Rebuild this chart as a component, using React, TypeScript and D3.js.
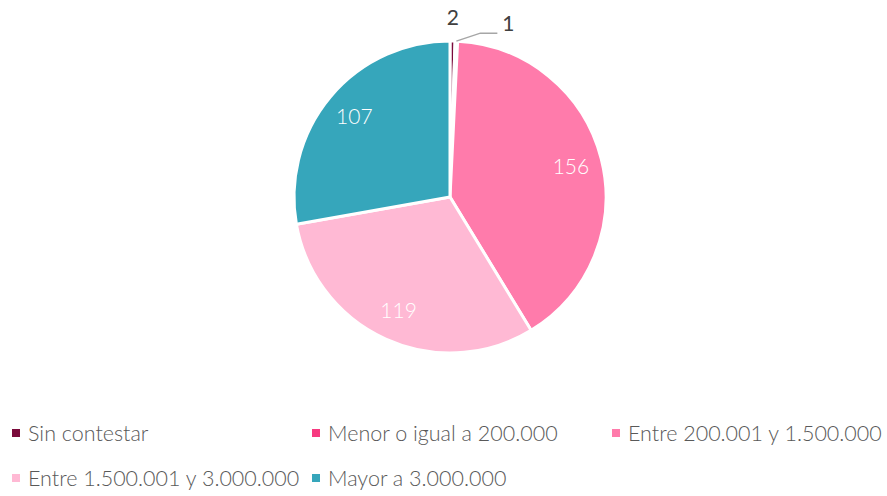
import React from "react";
import * as d3 from "d3";

const categories = [
  "Sin contestar",
  "Menor o igual a 200.000",
  "Entre 200.001 y 1.500.000",
  "Entre 1.500.001 y 3.000.000",
  "Mayor a 3.000.000",
];
const values = [2, 1, 156, 119, 107];
const colors = ["#7a0b3b", "#f73a80", "#ff7bab", "#ffb9d4", "#36a6bb"];

const W = 887;
const H = 496;
const cx = 450;
const cy = 197;
const R = 156;
const FONT = "Lato, 'Open Sans', sans-serif";

export default function App() {
  const pie = d3.pie<number>().sort(null).value((d) => d)(values);
  const arc = d3.arc<d3.PieArcDatum<number>>().innerRadius(0).outerRadius(R);
  const labelArc = d3.arc<d3.PieArcDatum<number>>().innerRadius(R * 0.8).outerRadius(R * 0.8);
  const edgeArc = d3.arc<d3.PieArcDatum<number>>().innerRadius(R).outerRadius(R);
  const outArc = d3.arc<d3.PieArcDatum<number>>().innerRadius(R + 23).outerRadius(R + 23);

  const legendCols = [12, 312, 612];
  const legendRows = [433, 478];

  return (
    <svg width={W} height={H} style={{ position: "absolute", left: 0, top: 0 }}>
      <rect width={W} height={H} fill="#ffffff" />
      <g transform={`translate(${cx},${cy})`}>
        {pie.map((p, i) => (
          <path key={i} d={arc(p) || ""} fill={colors[i]} stroke="#ffffff" strokeWidth={3} strokeLinejoin="round" />
        ))}
        {pie.map((p, i) => {
          if (p.value > 10) {
            const [x, y] = labelArc.centroid(p);
            return (
              <text key={"l" + i} x={x} y={y} dy="0.35em" textAnchor="middle" fill="#ffffff" fontFamily={FONT} fontSize={21} fontWeight={300}>
                {p.value}
              </text>
            );
          }
          if (i === 0) {
            const [x, y] = outArc.centroid(p);
            return (
              <text key={"l" + i} x={x} y={y} dy="0.35em" textAnchor="middle" fill="#404040" fontFamily={FONT} fontSize={21}>
                {p.value}
              </text>
            );
          }
          const [ex, ey] = edgeArc.centroid(p);
          const ox = ex + 24;
          const oy = ey - 8;
          const hx = ox + 17;
          return (
            <g key={"l" + i}>
              <polyline points={`${ex},${ey} ${ox},${oy} ${hx},${oy}`} fill="none" stroke="#a6a6a6" strokeWidth={1.5} />
              <text x={hx + 11} y={oy - 9} dy="0.35em" textAnchor="middle" fill="#404040" fontFamily={FONT} fontSize={21}>
                {p.value}
              </text>
            </g>
          );
        })}
      </g>
      {categories.map((c, i) => {
        const col = i < 3 ? i : i - 3;
        const row = i < 3 ? 0 : 1;
        const x = legendCols[col];
        const y = legendRows[row];
        return (
          <g key={"lg" + i}>
            <rect x={x} y={y - 4} width={8} height={8} fill={colors[i]} />
            <text x={x + 16} y={y} dy="0.35em" fill="#595959" fontFamily={FONT} fontSize={21.5} fontWeight={300}>
              {c}
            </text>
          </g>
        );
      })}
    </svg>
  );
}
